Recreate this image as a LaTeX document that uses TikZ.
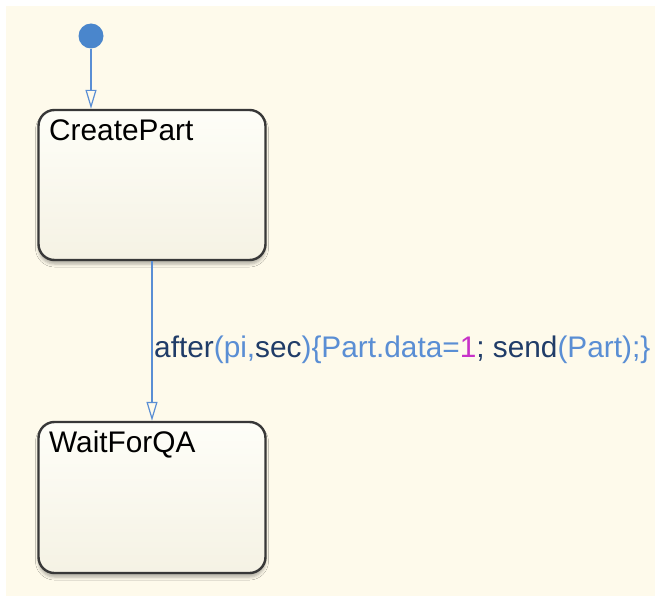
\documentclass[tikz,border=0pt]{standalone}
\usepackage{fontspec}
\setmainfont{Liberation Sans}
\usetikzlibrary{arrows.meta,shadows.blur}
\definecolor{bgcream}{HTML}{FEFAEB}
\definecolor{statetop}{HTML}{FEFEF8}
\definecolor{statebot}{HTML}{F5F2E4}
\definecolor{stateborder}{HTML}{383838}
\definecolor{trblue}{HTML}{5A8ED4}
\definecolor{dotblue}{HTML}{4A86CC}
\definecolor{kwnavy}{HTML}{203C68}
\definecolor{lblblue}{HTML}{5A8ED4}
\definecolor{nummag}{HTML}{C832C8}
\tikzset{
  statebox/.style={draw=stateborder, line width=2.4pt, rounded corners=16pt,
    minimum width=227pt, minimum height=150pt, inner sep=0pt,
    top color=statetop, bottom color=statebot,
    blur shadow={shadow xshift=0pt, shadow yshift=-4pt, shadow blur radius=3pt, shadow opacity=30}},
  statename/.style={anchor=base west, inner sep=0pt, text=black,
    font=\fontsize{29.8}{35}\selectfont},
  trans/.style={draw=trblue, line width=1.3pt,
    -{Triangle[open, length=19pt, width=11pt, line width=1.2pt]}},
  translabel/.style={anchor=base west, inner sep=0pt,
    font=\fontsize{29.8}{35}\selectfont},
  initdot/.style={circle, fill=dotblue, minimum size=25pt, inner sep=0pt}
}
\begin{document}
\begin{tikzpicture}[x=1pt,y=-1pt]
\useasboundingbox (0,0) rectangle (655,596);
\fill[bgcream] (6,6) rectangle (655,596);
\node[initdot] (init) at (91,36) {};
\node[statebox] (cp) at (152,185) {};
\node[statebox, minimum height=151pt] (wq) at (152,497.5) {};
\node[statename] (cpname) at (49,141) {CreatePart};
\node[statename] (wqname) at (49,452) {WaitForQA};
\draw[trans] (init) -- (init |- cp.north);
\draw[trans] (cp.south) -- (wq.north);
\node[translabel] (lbl) at (154,357) {\textcolor{kwnavy}{after}\textcolor{lblblue}{(pi,}\textcolor{kwnavy}{sec}\textcolor{lblblue}{)\{Part.data=}\textcolor{nummag}{1}\textcolor{kwnavy}{; send}\textcolor{lblblue}{(Part);\}}};
\end{tikzpicture}
\end{document}
